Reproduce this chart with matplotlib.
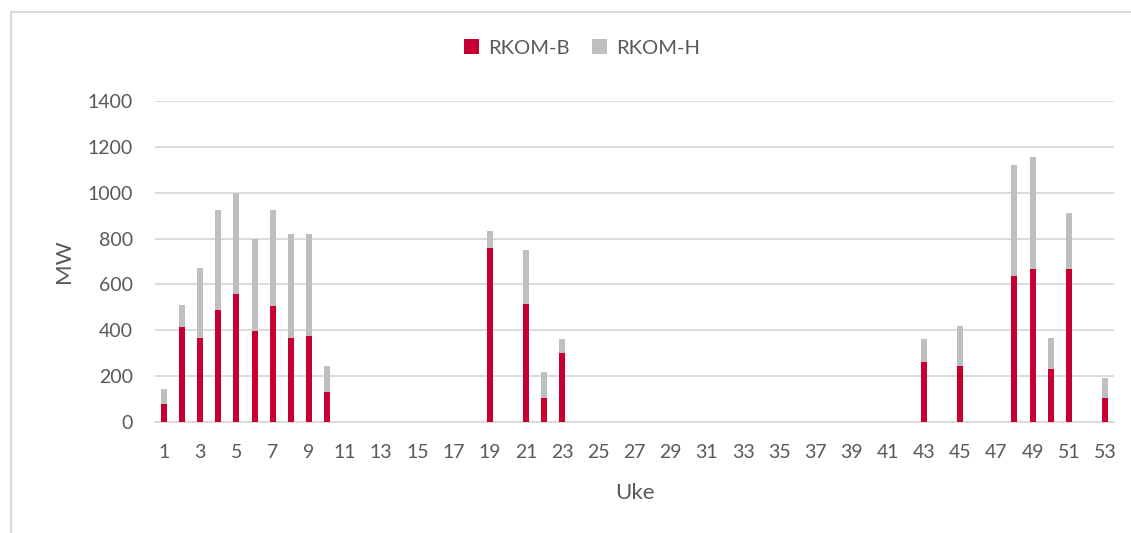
import numpy as np
import matplotlib.pyplot as plt
from matplotlib.patches import Rectangle

# uke 1..53, MW
uker = list(range(1, 54))
rkom_b = {1: 80, 2: 415, 3: 365, 4: 490, 5: 560, 6: 395, 7: 505, 8: 365, 9: 375, 10: 130,
          19: 760, 21: 515, 22: 105, 23: 300,
          43: 260, 45: 245, 48: 637, 49: 667, 50: 230, 51: 667, 53: 105}
rkom_h = {1: 65, 2: 95, 3: 305, 4: 435, 5: 440, 6: 405, 7: 420, 8: 455, 9: 445, 10: 115,
          19: 75, 21: 235, 22: 112, 23: 60,
          43: 100, 45: 175, 48: 483, 49: 490, 50: 138, 51: 243, 53: 87}
serie_b = np.array([rkom_b.get(u, 0) for u in uker])
serie_h = np.array([rkom_h.get(u, 0) for u in uker])

rod = '#C80032'
graa = '#BFBFBF'
tekst = '#595959'
plt.rcParams['font.family'] = ['Lato', 'DejaVu Sans']

fig = plt.figure(figsize=(11.31, 5.33), dpi=100)
ax = fig.add_axes([155 / 1131, 111 / 533, 959 / 1131, 321 / 533])

ax.bar(uker, serie_b, width=0.33, color=rod, label='RKOM-B', zorder=3)
ax.bar(uker, serie_h, width=0.33, bottom=serie_b, color=graa, label='RKOM-H', zorder=3)

ax.set_xlim(0.5, 53.5)
ax.set_ylim(0, 1400)
ax.set_yticks(range(0, 1401, 200))
ax.set_xticks(uker[::2])
ax.grid(axis='y', color='#D9D9D9', linewidth=1.3, zorder=0)
for s in ['top', 'right', 'left']:
    ax.spines[s].set_visible(False)
ax.spines['bottom'].set_color('#D9D9D9')
ax.spines['bottom'].set_linewidth(1.3)
ax.tick_params(length=0, labelsize=14, labelcolor=tekst)
ax.tick_params(axis='y', pad=16)
ax.tick_params(axis='x', pad=16)

ax.set_ylabel('MW', fontsize=16, color=tekst, labelpad=10)
ax.set_xlabel('Uke', fontsize=16, color=tekst, labelpad=16)

fig.legend(loc='center', bbox_to_anchor=(582 / 1131, 1 - 48 / 533), ncol=2, frameon=False,
           fontsize=14.5, labelcolor=tekst, handlelength=0.75, handleheight=0.75,
           columnspacing=1.1, handletextpad=0.45)

# ramme rundt diagrammet
fig.patches.append(Rectangle((11 / 1131, -0.01), 1.1, 1 - 12 / 533 + 0.01, transform=fig.transFigure,
                             fill=False, edgecolor='#D9D9D9', linewidth=1.5))

fig.savefig('out.png', dpi=100)
